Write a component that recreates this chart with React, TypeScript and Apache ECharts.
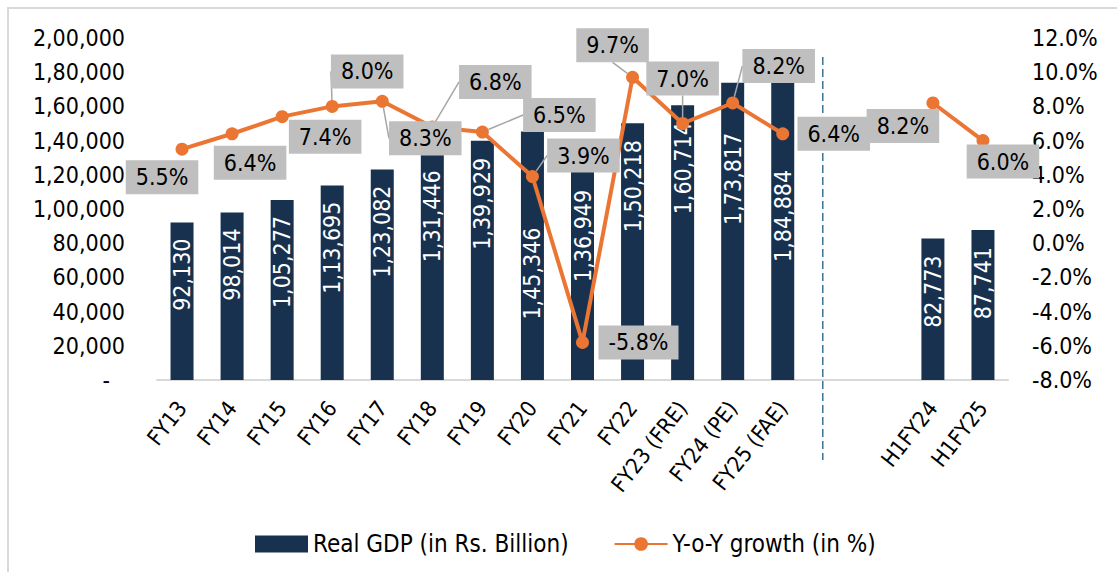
import React, { useEffect, useRef } from 'react';
import * as echarts from 'echarts';

// ---------- data ----------
const categories = [
  'FY13', 'FY14', 'FY15', 'FY16', 'FY17', 'FY18', 'FY19', 'FY20', 'FY21', 'FY22',
  'FY23 (FRE)', 'FY24 (PE)', 'FY25 (FAE)', ' ', '  ', 'H1FY24', 'H1FY25',
];
const gdpValues: (number | null)[] = [
  92130, 98014, 105277, 113695, 123082, 131446, 139929, 145346, 136949, 150218,
  160714, 173817, 184884, null, null, 82773, 87741,
];
const growthValues: (number | null)[] = [
  5.5, 6.4, 7.4, 8.0, 8.3, 6.8, 6.5, 3.9, -5.8, 9.7, 7.0, 8.2, 6.4, null, null, 8.2, 6.0,
];
const leftAxisMin = 0;
const leftAxisMax = 200000;
const leftAxisStep = 20000;
const rightAxisMin = -8;
const rightAxisMax = 12;
const rightAxisStep = 2;
const seriesNames = ['Real GDP (in Rs. Billion)', 'Y-o-Y growth (in %)'];

// ---------- styles ----------
const FONT = '"DejaVu Sans Condensed", "DejaVu Sans", sans-serif';
const BAR_COLOR = '#17314F';
const LINE_COLOR = '#EB7533';
const barLabelGap = [16, 16, 16, 16, 16, 15, 17, 96, 44, 17, 17, 50, 106, 0, 0, 17, 17];
const growthLabelShift: [number, number][] = [
  [-20, 28], [18, 29], [43, 20], [35, -35], [43, 37], [63, -45], [77, -17], [51, -21],
  [56, 0], [-20, -32], [0, -45], [46, -37], [51, 0], [0, 0], [0, 0], [-30, 23], [20, 21],
];
const growthLeader = [false, false, false, true, true, true, true, true, false, true, true, true, false, false, false, false, false];

function formatIndian(n: number): string {
  const s = String(Math.round(n));
  const last3 = s.slice(-3);
  const rest = s.slice(0, -3);
  if (!rest) return last3;
  return rest.replace(/\B(?=(\d{2})+(?!\d))/g, ',') + ',' + last3;
}

export default function App() {
  const ref = useRef<HTMLDivElement>(null);

  useEffect(() => {
    if (!ref.current) return;
    const chart = echarts.init(ref.current, undefined, { renderer: 'svg' });

    const barData = gdpValues.map((v, i) =>
      v == null
        ? null
        : { value: v, label: { distance: barLabelGap[i] } }
    );
    const lineData = growthValues.map((v, i) =>
      v == null
        ? null
        : { value: v, labelLine: { show: growthLeader[i] } }
    );

    chart.setOption({
      animation: false,
      textStyle: { fontFamily: FONT },
      grid: { left: 157, right: 109, top: 38, bottom: 192, containLabel: false },
      legend: {
        left: 250,
        top: 527,
        itemWidth: 53,
        itemHeight: 17,
        itemGap: 45,
        textStyle: { fontSize: 24, color: '#000', fontFamily: FONT },
        data: [{ name: seriesNames[0], icon: 'rect' }, { name: seriesNames[1] }],
      },
      xAxis: {
        type: 'category',
        data: categories,
        axisLine: { lineStyle: { color: '#D9D9D9', width: 2 } },
        axisTick: { show: false },
        axisLabel: {
          rotate: 52,
          interval: 0,
          margin: 24,
          fontSize: 22,
          color: '#000',
          fontFamily: FONT,
        },
      },
      yAxis: [
        {
          type: 'value',
          min: leftAxisMin,
          max: leftAxisMax,
          interval: leftAxisStep,
          splitLine: { show: false },
          axisLine: { show: false },
          axisTick: { show: false },
          axisLabel: {
            margin: 32,
            fontSize: 23,
            color: '#000',
            fontFamily: FONT,
            formatter: (v: number) => (v === 0 ? '{d|-}' : formatIndian(v)),
            rich: { d: { fontSize: 23, color: '#000', padding: [0, 15, 0, 0], fontFamily: FONT } },
          },
        },
        {
          type: 'value',
          min: rightAxisMin,
          max: rightAxisMax,
          interval: rightAxisStep,
          splitLine: { show: false },
          axisLine: { show: false },
          axisTick: { show: false },
          axisLabel: {
            margin: 24,
            fontSize: 23,
            color: '#000',
            fontFamily: FONT,
            formatter: (v: number) => v.toFixed(1) + '%',
          },
        },
      ],
      series: [
        {
          name: seriesNames[0],
          type: 'bar',
          yAxisIndex: 0,
          data: barData,
          barWidth: 23,
          itemStyle: { color: BAR_COLOR },
          label: {
            show: true,
            position: 'insideTop',
            rotate: 90,
            align: 'right',
            verticalAlign: 'middle',
            color: '#fff',
            fontSize: 23,
            fontFamily: FONT,
            formatter: (p: any) => formatIndian(p.value),
          },
        },
        {
          name: seriesNames[1],
          type: 'line',
          yAxisIndex: 1,
          data: lineData,
          connectNulls: false,
          symbol: 'circle',
          symbolSize: 13,
          lineStyle: { color: LINE_COLOR, width: 4 },
          itemStyle: { color: LINE_COLOR },
          z: 3,
          label: {
            show: true,
            position: 'inside',
            color: '#000',
            fontSize: 23,
            fontFamily: FONT,
            backgroundColor: '#BFBFBF',
            padding: [6, 10, 5, 10],
            formatter: (p: any) => Number(p.value).toFixed(1) + '%',
          },
          labelLine: {
            show: true,
            lineStyle: { color: '#A6A6A6', width: 1.5 },
          },
          labelLayout: (params: any) => {
            const s = growthLabelShift[params.dataIndex] || [0, 0];
            return { dx: s[0], dy: s[1] };
          },
        },
      ],
    });

    const p13 = chart.convertToPixel({ xAxisIndex: 0 }, 13) as number;
    const p14 = chart.convertToPixel({ xAxisIndex: 0 }, 14) as number;
    const dashX = p13 - 0.2 * (p14 - p13);

    chart.setOption({
      graphic: [
        {
          type: 'rect',
          silent: true,
          z: -1,
          shape: { x: 8, y: 8, width: 1120, height: 580 },
          style: { fill: 'none', stroke: '#D9D9D9', lineWidth: 2 },
        },
        {
          type: 'line',
          silent: true,
          shape: { x1: dashX, y1: 57, x2: dashX, y2: 460 },
          style: { stroke: '#3F7396', lineWidth: 1.5, lineDash: [8, 4] },
        },
      ],
    });

    return () => chart.dispose();
  }, []);

  return (
    <div
      ref={ref}
      style={{ position: 'fixed', left: 0, top: 0, width: 1117, height: 572, background: '#fff' }}
    />
  );
}
